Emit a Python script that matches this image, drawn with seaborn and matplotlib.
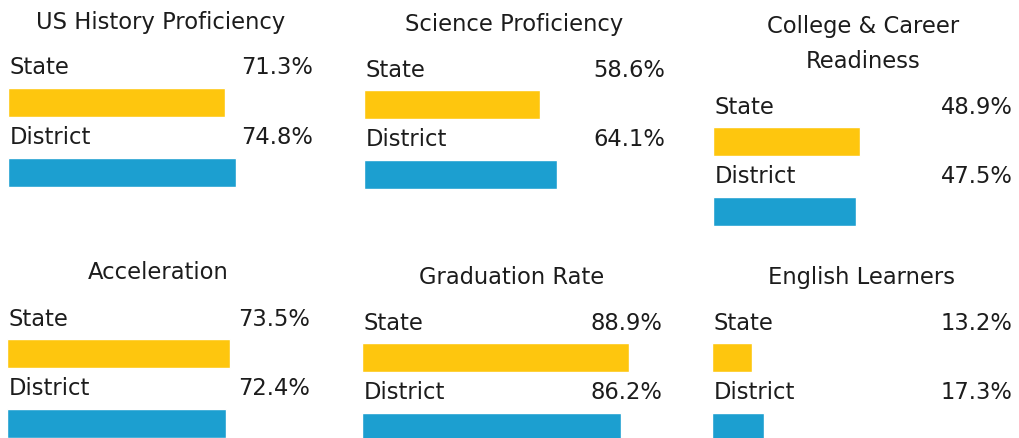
import matplotlib
matplotlib.use("Agg")
import matplotlib.pyplot as plt
import seaborn as sns
import pandas as pd

# ---- data ----
titles = ["US History Proficiency", "Science Proficiency", "College & Career\nReadiness",
          "Acceleration", "Graduation Rate", "English Learners"]
groups = ["State", "District"]
state_values = [71.3, 58.6, 48.9, 73.5, 88.9, 13.2]
district_values = [74.8, 64.1, 47.5, 72.4, 86.2, 17.3]
value_labels_state = ["71.3%", "58.6%", "48.9%", "73.5%", "88.9%", "13.2%"]
value_labels_district = ["74.8%", "64.1%", "47.5%", "72.4%", "86.2%", "17.3%"]

# ---- layout (pixels) ----
W, H = 1019, 438
x_start = [8, 364, 713, 7, 362, 712]          # left of bars
x_width = [305, 301, 300, 303, 300, 300]      # pixels for 0..100
state_center = [102.5, 104.5, 141.5, 353.5, 357.5, 358]
U = 69.5                                      # px per category step
YELLOW = "#FEC60E"
BLUE = "#1C9FD0"
TXT = "#1c1c1c"
FS = 16.3

sns.set_theme(style="white")
plt.rcParams["font.family"] = ["DejaVu Sans"]

fig = plt.figure(figsize=(W / 100, H / 100), dpi=100)
fig.patch.set_facecolor("white")

y_top, y_bot = -1.8, 1.8
for i in range(6):
    top_px = state_center[i] + y_top * U
    bot_px = state_center[i] + y_bot * U
    rect = [x_start[i] / W, 1 - bot_px / H, x_width[i] / W, (bot_px - top_px) / H]
    ax = fig.add_axes(rect)
    df = pd.DataFrame({"group": groups, "value": [state_values[i], district_values[i]]})
    sns.barplot(data=df, x="value", y="group", hue="group", palette=[YELLOW, BLUE],
                order=groups, hue_order=groups, width=29 / U, orient="h",
                legend=False, ax=ax, saturation=1)
    ax.set_xlim(0, 100)
    ax.set_ylim(y_bot, y_top)
    ax.axis("off")

    vlabels = [value_labels_state[i], value_labels_district[i]]
    for k, g in enumerate(groups):
        ax.text(0.5, k - 28 / U, g, ha="left", va="baseline", fontsize=FS, color=TXT,
                clip_on=False)
        ax.text(100, k - 28 / U, vlabels[k], ha="right", va="baseline", fontsize=FS,
                color=TXT, clip_on=False)
    lines = titles[i].split("\n")
    n = len(lines)
    for j, line in enumerate(lines):
        yb = -74 / U - (n - 1 - j) * 34 / U
        ax.text(50, yb, line, ha="center", va="baseline", fontsize=FS, color=TXT,
                clip_on=False)

fig.savefig("out.png", dpi=100, facecolor="white")
